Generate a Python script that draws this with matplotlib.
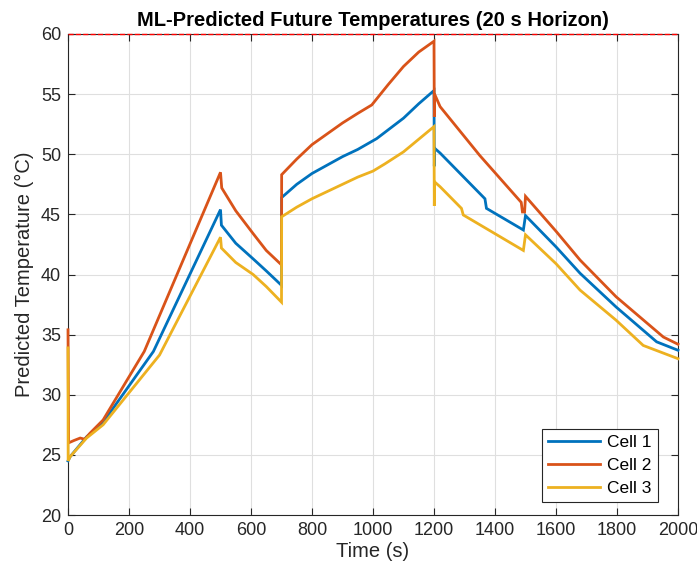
import matplotlib
matplotlib.use("Agg")
import matplotlib.pyplot as plt

plt.rcParams['font.family'] = ['Liberation Sans', 'DejaVu Sans']

# ---- data (keypoints) ----
t_cell1 = [0, 7, 61, 115, 280, 500, 503, 550, 607, 650, 700, 700.5, 750, 800, 850, 900, 950, 1012, 1100, 1150,
           1200, 1201, 1202, 1220, 1367, 1372, 1493, 1500, 1600, 1679, 1797, 1930, 2000]
T_cell1 = [24.5, 24.85, 26.5, 27.7, 33.6, 45.4, 44.1, 42.6, 41.3, 40.3, 39.1, 46.4, 47.5, 48.4, 49.1, 49.8, 50.4, 51.3, 53.0, 54.2,
           55.3, 49.0, 50.5, 50.1, 46.3, 45.5, 43.7, 44.9, 42.3, 40.1, 37.3, 34.4, 33.7]

t_cell2 = [0, 2, 20, 40, 55, 72, 115, 250, 500, 504, 550, 607, 650, 700, 700.5, 750, 800, 850, 900, 950, 996,
           1050, 1100, 1150, 1200, 1201, 1202, 1220, 1350, 1486, 1490, 1497, 1500, 1600, 1679, 1797, 1952, 2000]
T_cell2 = [35.4, 26.0, 26.2, 26.4, 26.3, 26.8, 27.9, 33.6, 48.5, 47.2, 45.3, 43.4, 42.0, 40.8, 48.3, 49.6, 50.8, 51.7, 52.6, 53.4, 54.1,
           55.8, 57.3, 58.5, 59.4, 53.1, 55.0, 53.96, 49.9, 46.0, 45.2, 45.2, 46.5, 43.6, 41.2, 38.15, 34.8, 34.2]

t_cell3 = [0, 0.5, 7, 61, 115, 300, 500, 503, 550, 607, 650, 700, 700.5, 750, 800, 850, 900, 950, 1000, 1039, 1100,
           1200, 1201, 1202, 1220, 1290, 1296, 1493, 1500, 1600, 1679, 1797, 1886, 2000]
T_cell3 = [33.9, 24.5, 24.85, 26.4, 27.5, 33.3, 43.1, 42.2, 41.0, 40.0, 39.0, 37.7, 44.8, 45.6, 46.3, 46.9, 47.5, 48.1, 48.6, 49.2, 50.2,
           52.3, 45.7, 47.7, 47.3, 45.5, 44.95, 42.0, 43.3, 40.9, 38.7, 36.2, 34.1, 33.0]

limit_temp = 60
series_names = ['Cell 1', 'Cell 2', 'Cell 3']
colors = ['#0072BD', '#D95319', '#EDB120']
x_ticks = list(range(0, 2001, 200))
y_ticks = list(range(20, 61, 5))

fig = plt.figure(figsize=(6.97, 5.72), dpi=100)
ax = fig.add_axes([68 / 697, 1 - 515 / 572, 610 / 697, 481 / 572])

for t, T, name, c in zip([t_cell1, t_cell2, t_cell3], [T_cell1, T_cell2, T_cell3], series_names, colors):
    ax.plot(t, T, color=c, lw=2.0, label=name, solid_joinstyle='miter', zorder=3, clip_on=False)

ax.axhline(limit_temp, color='#FF0000', ls='--', lw=1.0, zorder=5, clip_on=False)

ax.set_xlim(0, 2000)
ax.set_ylim(20, 60)
ax.set_xticks(x_ticks)
ax.set_yticks(y_ticks)
ax.grid(True, color='#DFDFDF', lw=0.8)
ax.set_axisbelow(True)
tc = '#262626'
ax.tick_params(direction='in', top=True, right=True, length=5, width=0.8, colors=tc,
               labelsize=13, pad=5)
for s in ax.spines.values():
    s.set_color(tc)
    s.set_linewidth(0.8)
    s.set_zorder(2.5)

ax.set_xlabel('Time (s)', fontsize=14.5, color=tc, labelpad=2)
ax.set_ylabel('Predicted Temperature (°C)', fontsize=14.5, color=tc, labelpad=5)
ax.set_title('ML-Predicted Future Temperatures (20 s Horizon)', fontsize=14.5, fontweight='bold',
             color='black', pad=6)

leg = ax.legend(loc='lower right', bbox_to_anchor=(0.967, 0.027), fontsize=12.5, frameon=True,
                fancybox=False, edgecolor=tc, framealpha=1, handlelength=3.0, borderpad=0.35,
                labelspacing=0.45, handletextpad=0.4, borderaxespad=0)
leg.get_frame().set_linewidth(0.8)

fig.savefig('out.png', dpi=100)
